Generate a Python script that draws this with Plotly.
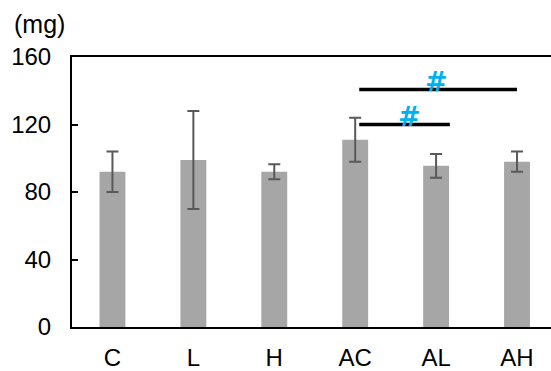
import plotly.graph_objects as go

categories = ["C", "L", "H", "AC", "AL", "AH"]
means = [92, 99, 92, 111, 95.5, 98]
errors = [12, 29, 4.5, 13, 7, 6]

# significance brackets: (x_start, x_end, y, label_x)
sig_x0 = [3.05, 3.05]
sig_x1 = [5.0, 4.17]
sig_y = [140.7, 120.0]
sig_label_x = [4.0, 3.67]
sig_labels = ["#", "#"]

y_ticks = [0, 40, 80, 120, 160]

FONT = "Liberation Sans, Arial, sans-serif"

fig = go.Figure()
fig.add_trace(go.Bar(
    x=categories, y=means,
    marker=dict(color="#A6A6A6", line=dict(width=0)),
    width=0.32,
    error_y=dict(type="data", array=errors, visible=True,
                 color="#595959", thickness=2, width=6),
))

for x0, x1, y, lx, lab in zip(sig_x0, sig_x1, sig_y, sig_label_x, sig_labels):
    fig.add_shape(type="line", xref="x", yref="y", x0=x0, x1=x1, y0=y, y1=y,
                  line=dict(color="black", width=3.5))
    fig.add_annotation(x=lx, y=y, xref="x", yref="y", text="<b>%s</b>" % lab,
                       showarrow=False, yanchor="bottom", yshift=-9,
                       font=dict(family="DejaVu Sans", size=27, color="#00B0F0"))

fig.add_annotation(x=0, y=1, xref="paper", yref="paper", text="(mg)",
                   showarrow=False, xanchor="right", yanchor="bottom",
                   xshift=-5, yshift=17,
                   font=dict(family=FONT, size=25, color="black"))

fig.update_layout(
    width=551, height=371,
    margin=dict(l=71.5, r=0, t=57, b=41),
    paper_bgcolor="white", plot_bgcolor="white",
    showlegend=False,
    font=dict(family=FONT, size=24, color="black"),
    bargap=0.68,
)
fig.update_xaxes(
    type="category", range=[-0.5, 5.42],
    showline=True, linecolor="black", linewidth=2, mirror=True,
    ticks="", showgrid=False, tickfont=dict(size=24),
    ticklabelstandoff=8,
)
fig.update_yaxes(
    range=[0, 160], tickvals=y_ticks,
    showline=True, linecolor="black", linewidth=2,
    ticks="inside", ticklen=6, tickwidth=2, tickcolor="black",
    showgrid=False, zeroline=False, tickfont=dict(size=24),
    ticklabelstandoff=14,
)

fig.write_html("out.html")
